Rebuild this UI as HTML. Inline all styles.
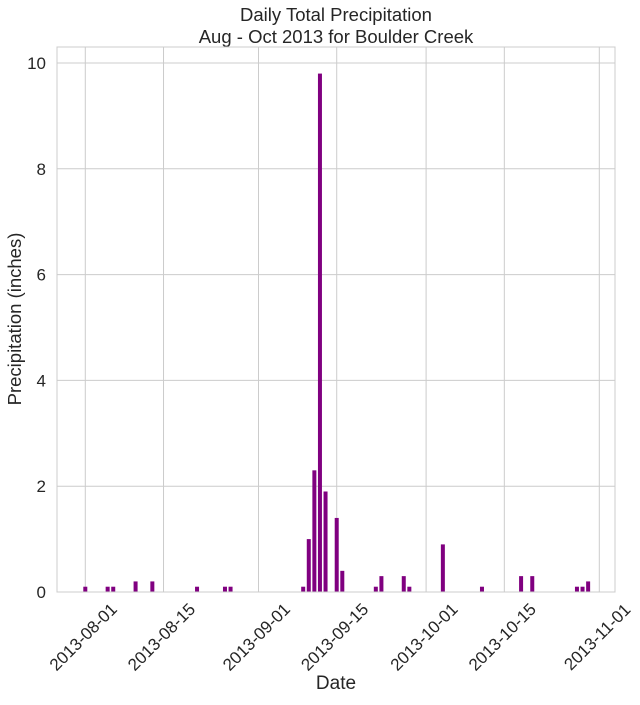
<!DOCTYPE html>
<html><head><meta charset="utf-8"><style>
body{margin:0;background:#fff;font-family:"Liberation Sans",sans-serif;}
svg text{font-family:"Liberation Sans",sans-serif;fill:#262626;}
</style></head><body>
<svg id="chart" width="640" height="700" viewBox="0 0 640 700" xmlns="http://www.w3.org/2000/svg">
<text x="336" y="21" font-size="18.5" text-anchor="middle">Daily Total Precipitation</text>
<text x="336" y="43" font-size="18.5" text-anchor="middle">Aug - Oct 2013 for Boulder Creek</text>
<g id="grid"></g><g id="bars"></g><g id="ticks"></g>
<rect x="57" y="47" width="558" height="545" fill="none" stroke="#ccc" stroke-width="1"/>
<text transform="translate(21,319) rotate(-90)" font-size="18.5" text-anchor="middle">Precipitation (inches)</text>
<text x="336" y="689" font-size="19" text-anchor="middle">Date</text>
</svg>
<script>
const barDates=["2013-08-01","2013-08-05","2013-08-06","2013-08-10","2013-08-13","2013-08-21","2013-08-26","2013-08-27","2013-09-09","2013-09-10","2013-09-11","2013-09-12","2013-09-13","2013-09-15","2013-09-16","2013-09-22","2013-09-23","2013-09-27","2013-09-28","2013-10-04","2013-10-11","2013-10-18","2013-10-20","2013-10-28","2013-10-29","2013-10-30"];
const precip=[0.1,0.1,0.1,0.2,0.2,0.1,0.1,0.1,0.1,1.0,2.3,9.8,1.9,1.4,0.4,0.1,0.3,0.3,0.1,0.9,0.1,0.3,0.3,0.1,0.1,0.2];
const xTickLabels=["2013-08-01","2013-08-15","2013-09-01","2013-09-15","2013-10-01","2013-10-15","2013-11-01"];
const yTicks=[0,2,4,6,8,10];
const NS="http://www.w3.org/2000/svg";
const t0=Date.UTC(2013,7,1);
function dayOf(s){const p=s.split("-");return (Date.UTC(+p[0],+p[1]-1,+p[2])-t0)/86400000;}
function xScale(s){return 85.3+dayOf(s)*5.587;}
function yScale(v){return 592-v*52.9;}
function mk(tag,attrs,parent){const e=document.createElementNS(NS,tag);for(const k in attrs)e.setAttribute(k,attrs[k]);document.getElementById(parent).appendChild(e);return e;}
yTicks.forEach(v=>{
  const l=mk("line",{x1:57,x2:615,y1:yScale(v),y2:yScale(v),stroke:"#ccc","stroke-width":1},"grid");
  
  
  const t=mk("text",{x:46,y:yScale(v)+6,"font-size":17,"text-anchor":"end"},"ticks");
  t.textContent=v;
  
  
});
xTickLabels.forEach(s=>{
  const x=xScale(s);
  const l=mk("line",{x1:x,x2:x,y1:47,y2:592,stroke:"#ccc","stroke-width":1},"grid");
  
  
  const t=mk("text",{transform:"translate("+(x+2)+",641) rotate(-45)","font-size":17,"text-anchor":"middle"},"ticks");
  t.textContent=s;
  
  
});
barDates.forEach((s,i)=>{
  const x=xScale(s),y=yScale(precip[i]);
  const r=mk("rect",{x:x-2,y:y,width:4,height:592-y,fill:"#800080"},"bars");
  
  
});
</script>
</body></html>
